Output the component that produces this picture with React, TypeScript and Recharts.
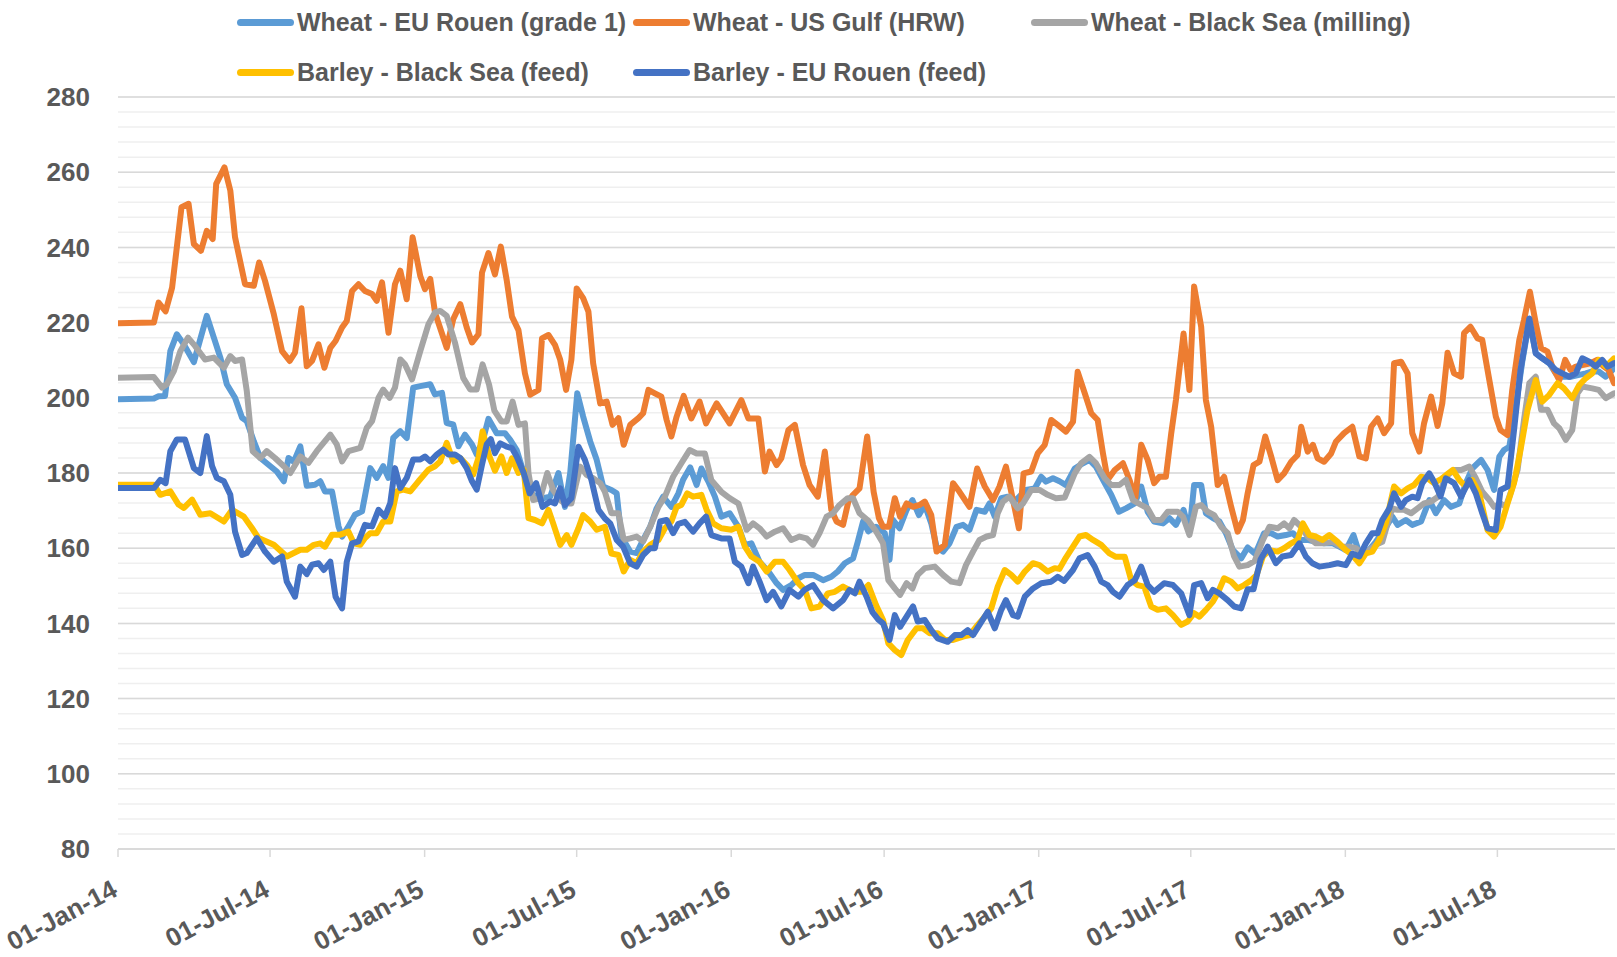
import React from "react";
import { LineChart, Line, XAxis, YAxis, CartesianGrid } from "recharts";

// x values are weeks since 01-Jan-14, y values are prices
const wheatRouen: [number, number][] = [
  [0, 199.6], [6.1, 199.8], [6.9, 200.4], [8.0, 200.5], [8.9, 212.4], [10.0, 216.9], [11.2, 214.2], [12.9, 209.5], [15.1, 221.8], [16.3, 216], [17.4, 210.7], [18.5, 203.6], [19.9, 200], [21.1, 194.7], [21.9, 193.8], [23.1, 188.4], [24.2, 184], [25.6, 182.2], [27.0, 180.4], [28.2, 177.8], [29.0, 184], [29.9, 183], [31.0, 187.1], [32.1, 176.6], [33.5, 176.9], [34.4, 177.8], [35.2, 175.1], [36.4, 175.1], [37.5, 165.8], [38.1, 163.1], [39.2, 165.8], [40.3, 168.9], [41.5, 169.8], [42.9, 181.3], [44.0, 178.7], [45.1, 181.8], [46.0, 178.7], [46.8, 189.3], [48.0, 191.1], [49.1, 189.3], [50.2, 202.7], [51.4, 203.1], [53.1, 203.6], [53.9, 200.9], [55.1, 201.3], [55.9, 193.3], [57.0, 192.9], [57.9, 187.1], [59.0, 190.2], [60.2, 187.6], [61.0, 184.9], [62.0, 188.4], [63.0, 194.4], [64.4, 190.6], [65.8, 190.6], [66.7, 188.8], [67.8, 186.1], [69.0, 180], [70.1, 174.6], [71.2, 173.7], [72.3, 173.3], [73.5, 173.7], [74.9, 180], [76.0, 171], [76.9, 180], [78.1, 201.2], [79.1, 195], [80.3, 188.4], [81.4, 183.5], [82.5, 176.4], [83.9, 175.5], [84.8, 174.6], [85.6, 163.1], [87.1, 159.1], [88.2, 158.7], [89.3, 162.2], [90.5, 165.7], [91.6, 170.6], [92.7, 173.7], [94.1, 171], [95.3, 174.6], [96.1, 178.2], [97.3, 181.5], [98.4, 176.8], [99.2, 181.2], [100.4, 177.7], [101.5, 173.7], [102.6, 168.4], [104.0, 169.3], [105.5, 165.7], [106.6, 160.9], [107.7, 161.3], [109.1, 156.4], [110.6, 153.8], [112.0, 150.7], [113.1, 148.9], [114.5, 150.2], [115.7, 152], [116.8, 152.9], [118.2, 152.9], [119.9, 151.5], [121.3, 152.4], [122.4, 153.8], [123.6, 156], [125.0, 157.3], [125.8, 161.7], [126.7, 167.1], [127.6, 164.5], [128.9, 165.7], [130.4, 164], [131.2, 156.9], [131.8, 167.5], [132.9, 165.3], [134.1, 170.2], [135.1, 172.8], [136.2, 168.8], [137.2, 171.5], [138.3, 166.6], [139.2, 160.4], [140.3, 159.1], [141.4, 161.3], [142.6, 165.7], [143.7, 166.2], [144.8, 164.9], [146.0, 170.2], [147.4, 169.7], [148.2, 171.9], [149.1, 168.4], [150.2, 173.3], [151.3, 173.7], [152.7, 172.8], [154.4, 175.5], [155.9, 175.9], [157.0, 179], [157.8, 177.7], [159.0, 178.6], [160.1, 177.8], [161.2, 176.8], [162.7, 181.2], [164.1, 182.6], [165.2, 183.5], [166.3, 181.7], [167.8, 177.3], [168.9, 174.2], [170.2, 169.7], [171.4, 170.6], [172.9, 171.9], [174.0, 176.4], [175.1, 169.7], [176.2, 167.1], [177.7, 166.6], [178.8, 168], [179.9, 166.2], [181.2, 170.2], [182.2, 164.4], [183.0, 176.8], [184.2, 176.8], [185.0, 169.3], [186.2, 168], [187.3, 167.1], [188.4, 164], [189.6, 159.5], [191.0, 157.3], [192.1, 160.2], [193.4, 158.5], [194.9, 164], [196.1, 164], [197.2, 163.1], [198.6, 163.5], [199.8, 164], [200.9, 162.2], [202.3, 162.2], [203.7, 161.7], [205.1, 161.3], [206.6, 161.3], [207.7, 160.4], [208.8, 159.5], [210.1, 163.5], [211.1, 158.6], [212.5, 159.1], [213.9, 161.7], [215.3, 164.8], [216.7, 168.4], [217.6, 166.2], [219.0, 167.5], [220.1, 166.2], [221.6, 167.1], [223.0, 172.8], [224.1, 169.3], [225.5, 172.8], [226.7, 171], [228.1, 171.9], [229.2, 177.3], [230.3, 181.2], [231.8, 183.5], [232.9, 180.8], [234.0, 175.5], [234.9, 184.3], [235.7, 186.1], [236.6, 187], [237.7, 197.6], [238.8, 209.6], [240.0, 220.5], [241.1, 211.8], [242.2, 210.5], [243.4, 209.2], [244.5, 206.5], [245.6, 205.6], [247.0, 205.6], [248.5, 206.1], [249.6, 206.5], [250.7, 207], [251.8, 207], [253.0, 205.6], [254.4, 207.8],
];

const wheatGulf: [number, number][] = [
  [0, 219.8], [6.1, 220], [6.9, 225.3], [8.1, 223], [9.2, 229.3], [10.8, 250.7], [12.0, 251.6], [12.9, 240.9], [14.1, 239.1], [15.1, 244.4], [16.1, 242.2], [16.7, 256.9], [18.1, 261.3], [19.1, 255.1], [19.9, 242.7], [21.6, 230.2], [23.1, 229.8], [24.0, 236], [25.0, 231.1], [26.5, 222.2], [27.9, 212.4], [29.2, 209.8], [30.1, 212], [31.2, 223.8], [32.1, 208.4], [33.0, 209.8], [34.1, 214.2], [35.1, 208], [36.1, 213.3], [37.0, 215.1], [38.1, 218.7], [38.9, 220.4], [39.8, 228.4], [40.9, 230.2], [42.0, 228.4], [43.2, 227.6], [44.0, 225.8], [44.9, 230.7], [46.0, 217.3], [47.1, 230.2], [48.0, 233.8], [49.1, 226.2], [50.1, 242.7], [51.4, 232.4], [52.2, 228.9], [53.1, 231.6], [53.9, 222.7], [55.9, 213.3], [57.0, 220.9], [58.2, 224.9], [59.3, 218.7], [60.2, 214.7], [61.3, 216.9], [61.9, 233.3], [63.0, 238.5], [64.1, 232.8], [65.1, 240.2], [66.1, 231.3], [67.0, 221.6], [68.1, 218], [69.2, 206.5], [70.1, 200.8], [71.5, 202.1], [72.1, 215.8], [73.2, 216.7], [74.3, 214.1], [75.2, 210.1], [76.2, 202.1], [77.1, 210.1], [78.0, 229.1], [79.1, 226.5], [80.0, 222.9], [80.8, 209.2], [82.0, 198.5], [83.1, 199], [84.1, 192.8], [85.1, 194.6], [86.0, 187.5], [87.1, 192.8], [88.5, 194.6], [89.3, 195.9], [90.2, 202.1], [91.3, 201.2], [92.4, 200.3], [93.3, 194.1], [94.1, 189.7], [95.0, 195], [96.2, 200.5], [97.5, 194.5], [98.9, 199], [100.0, 193.2], [101.8, 198.5], [104.0, 193.2], [106.0, 199.4], [107.2, 194.5], [108.9, 194.5], [110.0, 180.4], [110.8, 185.7], [112.0, 182.1], [112.8, 183.9], [114.0, 191.4], [115.1, 192.8], [116.5, 182.1], [117.6, 176.8], [119.0, 173.7], [120.2, 185.7], [121.3, 170.2], [122.2, 167.1], [123.3, 166.2], [124.2, 172.4], [125.0, 174.2], [126.1, 175.9], [127.4, 189.7], [128.5, 175], [129.4, 168], [130.1, 165.7], [131.1, 165.7], [132.1, 173.3], [133.0, 168.4], [134.1, 171.9], [135.2, 171], [136.3, 171.5], [137.2, 172.4], [138.3, 168.8], [139.2, 159.1], [140.6, 160.9], [142.0, 177.3], [143.1, 175], [144.8, 171], [146.1, 181.2], [147.4, 176.4], [148.8, 172.8], [149.9, 176.4], [151.0, 181.7], [152.2, 172.8], [153.2, 165.3], [154.0, 179.9], [155.3, 180.4], [156.4, 185.2], [157.6, 187.5], [158.7, 194.1], [159.8, 192.8], [161.2, 191], [162.4, 193.6], [163.2, 206.9], [164.4, 201.2], [165.5, 195.9], [166.6, 194.1], [167.5, 185.2], [168.3, 178.2], [169.5, 180.8], [170.9, 182.6], [172.0, 178.2], [173.0, 173.3], [174.0, 187.5], [175.1, 183.5], [176.2, 177.3], [177.1, 179], [178.2, 179], [179.1, 190.5], [179.9, 199.4], [181.2, 217.1], [182.2, 202.1], [183.0, 229.6], [184.2, 218.9], [185.0, 199.4], [185.9, 192.3], [187.0, 176.8], [188.1, 179], [189.3, 171], [190.4, 164.4], [191.3, 167.5], [192.1, 174.6], [193.1, 182.1], [194.1, 183], [195.1, 189.7], [196.1, 184.4], [197.2, 178.1], [198.3, 179.9], [199.5, 183], [200.6, 184.8], [201.2, 192.3], [202.3, 185.7], [203.2, 187.5], [204.0, 183.9], [205.1, 183], [206.3, 185.2], [207.1, 188.3], [208.5, 190.6], [209.9, 192.3], [211.1, 184.4], [212.2, 183.9], [213.1, 192.3], [214.2, 194.5], [215.3, 190.6], [216.5, 193.2], [217.0, 209.2], [218.2, 209.6], [219.3, 206.5], [220.1, 190.6], [221.3, 185.7], [222.1, 193.2], [223.3, 200.3], [224.4, 192.5], [225.2, 198.5], [226.1, 212], [227.2, 206.5], [228.4, 205.6], [228.9, 217.2], [230.0, 218.9], [231.2, 215.8], [232.0, 215.4], [233.2, 204.7], [234.3, 195], [235.1, 191.4], [236.3, 190.1], [237.1, 202.1], [238.3, 215.4], [239.1, 220.7], [240.1, 228.2], [241.1, 219.8], [242.0, 213.2], [243.1, 212.3], [243.9, 208.3], [245.1, 204.7], [246.1, 210.1], [247.0, 207.4], [247.9, 208.3], [249.0, 208.7], [250.4, 209.2], [251.6, 210.1], [252.7, 208.3], [253.5, 207.4], [254.4, 203.9],
];

const wheatBlackSea: [number, number][] = [
  [0, 205.3], [6.1, 205.5], [7.5, 202.7], [8.3, 203.6], [9.5, 207.1], [10.6, 212.4], [11.9, 216], [13.1, 213.8], [14.8, 210.2], [16.3, 210.7], [18.0, 208], [19.1, 211.1], [19.9, 209.8], [21.1, 210.2], [21.9, 201.8], [22.9, 185.8], [24.2, 184], [25.3, 185.8], [26.7, 184], [28.2, 181.8], [29.3, 180], [31.0, 184.4], [32.4, 182.7], [33.8, 185.8], [36.1, 190.2], [37.2, 187.6], [38.1, 183.1], [39.2, 185.8], [41.2, 186.7], [42.3, 192], [43.2, 193.8], [44.3, 200], [45.1, 202.2], [46.2, 200], [47.1, 202.7], [48.0, 210.2], [48.8, 208.9], [50.0, 204.9], [51.4, 212.4], [52.8, 219.6], [53.9, 222.7], [54.8, 223.1], [55.9, 221.8], [57.3, 214.7], [58.7, 205.3], [59.9, 202.2], [61.0, 202.2], [62.0, 208.9], [63.1, 203.5], [64.0, 196.6], [65.2, 193.7], [66.1, 193.7], [67.1, 199], [68.1, 192.8], [69.2, 193.2], [69.8, 180], [70.6, 172.8], [71.8, 173.3], [73.0, 180], [74.0, 175.5], [75.2, 172.8], [76.0, 171.9], [77.1, 171.9], [78.6, 181.7], [79.7, 179.5], [80.8, 178.6], [82.0, 177.3], [82.8, 175], [83.9, 169.3], [85.1, 169.3], [86.0, 162.2], [87.1, 162.6], [88.2, 163.1], [89.3, 161.8], [90.5, 165.7], [91.9, 171], [93.0, 173.7], [94.4, 179], [95.8, 182.6], [97.2, 186.1], [98.4, 185.2], [99.8, 185.2], [100.9, 178.1], [102.6, 175], [104.0, 173.3], [105.5, 171.9], [106.9, 164.9], [108.0, 166.6], [109.1, 165.3], [110.3, 163.1], [111.7, 164.4], [113.1, 165.3], [114.5, 162.2], [115.9, 163.1], [117.1, 162.6], [118.2, 160.9], [119.3, 164], [120.5, 168.4], [121.6, 169.3], [122.7, 171.5], [124.1, 173.3], [125.0, 173.3], [126.1, 169.3], [127.6, 167.3], [128.9, 164.5], [130.1, 161.3], [131.0, 151.5], [132.1, 149.3], [133.0, 147.6], [134.1, 150.7], [135.1, 149.3], [136.0, 152.9], [137.2, 154.7], [138.9, 155.1], [140.3, 152.9], [141.7, 151.1], [143.1, 150.7], [144.2, 155.5], [145.4, 159.1], [146.5, 162.2], [147.7, 163.1], [148.8, 163.5], [149.6, 169.3], [150.5, 172.4], [151.6, 173.7], [153.0, 170.6], [153.9, 171.9], [155.3, 175.5], [156.7, 175.5], [158.1, 174.2], [159.5, 173.3], [161.0, 173.5], [162.7, 179.9], [163.8, 182.6], [165.2, 184.3], [166.3, 182.6], [167.8, 178.6], [168.9, 176.8], [170.3, 176.8], [171.4, 178.2], [172.6, 172.8], [174.0, 171.5], [175.1, 170.6], [176.2, 167.5], [177.4, 167.5], [178.5, 169.7], [180.2, 169.7], [181.1, 168.4], [182.2, 163.5], [183.3, 171], [184.2, 171.5], [185.3, 169.7], [186.4, 168.8], [187.6, 165.7], [188.7, 164], [189.8, 157.8], [190.7, 155.1], [192.1, 155.5], [193.3, 156.6], [194.7, 162.2], [195.8, 165.7], [197.2, 165.3], [198.3, 166.6], [199.2, 165.3], [200.0, 167.5], [201.2, 165.7], [202.3, 163.1], [203.7, 161.3], [205.1, 161.3], [206.6, 161.7], [208.0, 160.4], [209.4, 160.4], [210.5, 160], [211.6, 158.6], [212.8, 159.5], [213.9, 160.9], [215.0, 161.7], [215.9, 166.6], [216.7, 170.6], [217.6, 170.2], [218.7, 170.2], [219.9, 169.3], [221.0, 170.6], [222.1, 171.9], [223.3, 172.4], [224.5, 173.7], [225.8, 179], [227.2, 180.8], [228.4, 180.8], [229.8, 181.7], [230.9, 178.6], [232.0, 175], [233.2, 172.8], [234.0, 171], [235.1, 171.9], [236.0, 171], [236.8, 174.6], [238.0, 180.8], [239.1, 194.1], [240.0, 203.9], [241.1, 205.6], [242.0, 196.8], [243.1, 196.8], [244.2, 193.2], [245.1, 191.9], [246.2, 188.8], [247.3, 191.4], [248.2, 201.2], [249.0, 203], [250.7, 202.5], [251.8, 202.1], [253.0, 199.9], [254.4, 201.2],
];

const barleyBlackSea: [number, number][] = [
  [0, 176.9], [6.1, 176.9], [7.2, 174.2], [8.9, 175.1], [10.3, 171.6], [11.2, 170.7], [12.6, 172.9], [14.0, 168.9], [15.7, 169.3], [18.0, 167.1], [19.4, 170.2], [21.4, 168.4], [22.8, 165.3], [23.9, 162.7], [26.5, 160.9], [28.7, 157.8], [31.0, 159.6], [32.1, 159.6], [33.3, 160.9], [34.4, 161.3], [35.2, 160.4], [36.4, 163.6], [37.8, 163.6], [39.2, 164.4], [40.1, 161.3], [41.2, 160.9], [42.0, 162.7], [42.9, 164], [44.0, 164], [45.1, 167.1], [46.3, 167.1], [47.4, 175.1], [48.5, 175.6], [49.7, 175.1], [51.1, 177.8], [52.8, 180.9], [53.9, 181.8], [54.8, 183.1], [55.9, 188], [57.0, 183.1], [58.2, 184], [59.3, 182.2], [60.4, 179.6], [61.3, 184], [62.0, 191.1], [63.1, 184.7], [64.1, 180.6], [65.2, 184.4], [66.1, 180], [67.0, 183.9], [68.1, 180], [69.0, 180.8], [69.8, 168], [70.9, 167.5], [72.1, 166.6], [73.2, 170.2], [74.0, 166.6], [75.2, 160.9], [76.3, 163.5], [77.1, 160.9], [78.3, 165.3], [79.1, 168.8], [80.3, 167.1], [81.4, 164.9], [82.8, 165.7], [83.9, 158.6], [85.1, 158.2], [86.0, 153.8], [87.1, 156.9], [88.2, 156], [89.3, 159.1], [90.5, 160.9], [91.9, 162.2], [93.0, 165.3], [94.1, 167.1], [95.0, 171], [95.8, 171.5], [96.8, 174.6], [97.8, 173.7], [99.2, 174.2], [100.1, 170.2], [101.2, 166.6], [102.6, 165.3], [104.3, 164.9], [105.5, 165.7], [106.6, 160.4], [107.7, 157.8], [109.1, 156.4], [110.3, 153.8], [111.7, 156.4], [113.1, 156.4], [114.2, 154.2], [115.7, 150.7], [116.8, 148.9], [117.9, 144], [119.3, 144.5], [120.7, 148], [121.9, 148.4], [123.3, 149.8], [125.0, 148.4], [126.4, 148.4], [127.6, 150.2], [128.9, 144.9], [130.1, 140.9], [131.0, 134.7], [132.1, 132.9], [133.2, 131.6], [134.3, 135.6], [135.8, 138.7], [136.9, 138.7], [138.0, 137.4], [139.4, 137.4], [140.6, 135.6], [142.0, 135.6], [143.7, 136.5], [144.8, 136.9], [146.2, 139.6], [147.4, 141.8], [148.5, 144], [149.6, 149.8], [150.8, 154.2], [151.9, 152.9], [153.0, 151.1], [154.2, 153.8], [155.6, 156], [156.7, 155.5], [158.1, 153.8], [159.3, 154.7], [160.1, 154.5], [161.2, 157.5], [162.4, 160.4], [163.5, 163.1], [164.6, 163.5], [165.8, 162.2], [167.2, 160.9], [168.6, 158.6], [169.7, 157.7], [171.2, 157.7], [172.3, 151.5], [173.4, 150.2], [174.5, 149.8], [175.7, 144.5], [176.8, 143.6], [178.2, 144], [179.4, 142.2], [180.8, 139.6], [181.9, 140.5], [183.0, 142.7], [183.9, 141.8], [185.0, 143.6], [186.2, 145.8], [187.0, 148], [188.1, 152], [189.3, 151.1], [190.4, 149.3], [191.5, 150.2], [192.7, 151.5], [193.6, 152.8], [194.7, 157.8], [195.8, 159.5], [197.2, 159.1], [198.3, 160], [199.5, 161.3], [200.6, 162.2], [201.5, 166.6], [202.6, 163.5], [203.7, 163.1], [204.8, 162.2], [206.0, 163.5], [207.4, 161.7], [208.8, 159.5], [209.9, 158.2], [211.1, 156], [212.2, 158.6], [213.3, 159.1], [214.5, 162.2], [215.6, 166.6], [217.0, 176.4], [218.2, 174.6], [219.3, 175.9], [220.4, 176.8], [221.6, 179], [222.7, 178.6], [223.8, 177.3], [225.0, 178.4], [226.0, 179.6], [227.0, 180.8], [228.1, 178.1], [229.2, 176.4], [230.3, 178.1], [231.5, 174.6], [232.9, 164.8], [234.0, 163.1], [235.1, 165.7], [236.3, 171.9], [237.4, 177.3], [238.5, 186.1], [239.7, 196.8], [241.1, 204.7], [242.2, 199], [243.4, 200.8], [244.8, 203.9], [245.9, 202.5], [247.3, 199.9], [248.5, 203.4], [249.6, 205.2], [250.7, 206.5], [251.8, 210.1], [253.0, 208.3], [254.4, 210.5],
];

const barleyRouen: [number, number][] = [
  [0, 176], [6.1, 176], [7.2, 178.2], [8.1, 177.3], [8.9, 185.8], [10.0, 188.9], [11.4, 188.9], [12.9, 181.3], [14.0, 180], [15.1, 189.8], [16.0, 181.8], [16.8, 178.7], [18.0, 177.8], [19.1, 174.2], [19.9, 164.4], [21.1, 158.2], [21.9, 158.7], [23.6, 162.7], [25.0, 159.1], [26.5, 156.4], [27.9, 157.8], [28.7, 151.1], [30.1, 147.1], [31.0, 155.1], [32.1, 153.1], [33.0, 155.6], [34.1, 156], [35.0, 154.2], [36.1, 156.4], [37.0, 147.1], [38.1, 144], [38.9, 156.4], [39.8, 161.3], [40.9, 161.8], [42.0, 166.2], [43.2, 165.8], [44.3, 170.2], [45.4, 168.4], [46.3, 172], [47.1, 181.3], [48.0, 176], [49.1, 178.7], [50.2, 183.6], [51.4, 183.6], [52.2, 184.4], [53.1, 183.1], [54.2, 184.9], [55.3, 186.2], [56.2, 184.9], [57.3, 184.9], [58.2, 184], [59.3, 181.3], [60.2, 177.8], [61.0, 175.6], [61.9, 182.2], [62.7, 187.6], [63.4, 189], [64.1, 185.3], [65.0, 187.9], [66.1, 187], [67.0, 186.6], [67.8, 184.4], [69.0, 180], [70.0, 174.6], [71.1, 177.3], [72.2, 171], [73.5, 172.4], [74.3, 171.9], [75.2, 175.9], [76.0, 171.5], [77.1, 173.3], [78.3, 187], [79.4, 183.5], [80.5, 178.2], [81.7, 170.2], [82.8, 167.9], [83.7, 166.6], [84.8, 162.2], [85.9, 160.4], [87.1, 156], [88.2, 155.1], [89.3, 158.2], [90.5, 160], [91.3, 160], [92.2, 167.1], [93.3, 167.5], [94.4, 164], [95.3, 166.5], [96.4, 167], [97.8, 164.4], [98.9, 166.6], [100.0, 168.4], [100.9, 163.5], [102.6, 162.6], [104.0, 162.6], [104.9, 156.4], [106.0, 155.1], [107.2, 150.7], [108.0, 155.1], [109.1, 151.1], [110.3, 146.2], [111.4, 148.4], [112.8, 144.5], [114.2, 148.9], [115.7, 147.1], [116.8, 149], [118.2, 150.2], [119.9, 146.2], [121.6, 144], [123.3, 146.2], [124.4, 148.9], [125.3, 148], [126.1, 151.1], [127.3, 147.1], [128.3, 143], [129.3, 141], [130.1, 140], [131.2, 135.6], [132.1, 142.2], [133.0, 139.1], [134.1, 141.8], [135.2, 144.5], [136.0, 140.5], [137.2, 140.9], [138.3, 138.2], [139.4, 136], [141.1, 135.1], [142.3, 136.9], [143.4, 136.9], [144.5, 138.2], [145.4, 136.9], [146.5, 139.6], [147.9, 143.1], [149.1, 138.7], [150.2, 143.6], [151.0, 146.2], [152.2, 142.2], [153.0, 141.8], [154.2, 147.1], [155.6, 149.3], [157.0, 150.7], [158.7, 151.1], [159.8, 152.4], [160.9, 151.3], [162.4, 154.2], [163.5, 157.3], [164.9, 158.2], [166.1, 155.1], [167.2, 151.1], [168.3, 150.2], [169.2, 148.4], [170.3, 147.1], [171.7, 150.2], [172.9, 151.5], [174.0, 155.1], [175.1, 150.2], [176.2, 148.4], [177.9, 150.7], [179.4, 150.2], [180.8, 148], [182.2, 142.2], [183.0, 150.2], [184.2, 150.7], [185.3, 146.7], [186.2, 148.9], [187.3, 148], [188.7, 146.2], [189.8, 144.5], [191.0, 144], [192.1, 149.1], [193.1, 149.1], [194.3, 157], [195.5, 160.4], [196.9, 156], [198.0, 157.8], [199.5, 158.2], [200.9, 161.3], [202.0, 157.8], [203.1, 156], [204.3, 155.1], [206.0, 155.5], [207.4, 156], [208.8, 155.5], [209.9, 158.6], [211.1, 157.8], [212.2, 161.3], [213.3, 164], [214.2, 164], [215.0, 167.5], [216.2, 170.6], [217.0, 174.6], [218.2, 171], [219.0, 172.8], [220.1, 173.7], [221.0, 173.3], [221.8, 177.3], [223.0, 179.9], [223.8, 177.7], [224.9, 173.8], [225.8, 178.6], [227.2, 177.3], [228.4, 173.7], [229.8, 178.1], [230.9, 174.6], [232.0, 169.3], [232.9, 165.3], [234.3, 164.8], [235.1, 175.5], [236.3, 176.4], [237.4, 191.4], [238.5, 207.4], [240.0, 221.1], [241.1, 211.8], [242.2, 210.5], [243.4, 209.2], [244.5, 207.4], [245.6, 206.5], [246.8, 205.6], [247.9, 206.5], [249.0, 210.5], [250.2, 209.6], [251.3, 208.3], [252.4, 210.1], [253.3, 208.3], [254.4, 209.2],
];

const tickDates = ["2014-01-01", "2014-07-01", "2015-01-01", "2015-07-01", "2016-01-01", "2016-07-01", "2017-01-01", "2017-07-01", "2018-01-01", "2018-07-01"];
const tickLabels = ["01-Jan-14", "01-Jul-14", "01-Jan-15", "01-Jul-15", "01-Jan-16", "01-Jul-16", "01-Jan-17", "01-Jul-17", "01-Jan-18", "01-Jul-18"];
const priceTicks = [80, 100, 120, 140, 160, 180, 200, 220, 240, 260, 280];

const DAY = 86400000;
const START = Date.parse("2014-01-01");
const END = START + 1782 * DAY;
const tickTimes = tickDates.map((d) => Date.parse(d));
const minorTicks = Array.from({ length: 51 }, (_, i) => 80 + i * 4);

const FONT = '"Liberation Sans", Arial, sans-serif';
const TEXT = "#595959";

const series = [
  { name: "Wheat - EU Rouen (grade 1)", color: "#5B9BD5", points: wheatRouen },
  { name: "Wheat - US Gulf (HRW)", color: "#ED7D31", points: wheatGulf },
  { name: "Wheat - Black Sea (milling)", color: "#A5A5A5", points: wheatBlackSea },
  { name: "Barley - Black Sea (feed)", color: "#FFC000", points: barleyBlackSea },
  { name: "Barley - EU Rouen (feed)", color: "#4472C4", points: barleyRouen },
];

const toRows = (pts: [number, number][]) =>
  pts.map(([w, p]) => ({ t: START + w * 7 * DAY, price: p }));

const legendPos = [
  { left: 237, top: 22 },
  { left: 633, top: 22 },
  { left: 1031, top: 22 },
  { left: 237, top: 72 },
  { left: 633, top: 72 },
];

const DateTick = (props: any) => {
  const { x, y, payload } = props;
  const i = tickTimes.indexOf(payload.value);
  const ax = x + 1;
  const ay = y + 36;
  return (
    <text
      x={ax}
      y={ay}
      transform={`rotate(-28, ${ax}, ${ay})`}
      textAnchor="end"
      fill={TEXT}
      fontFamily={FONT}
      fontWeight="bold"
      fontSize={26}
    >
      {tickLabels[i]}
    </text>
  );
};

export default function App() {
  return (
    <div style={{ position: "absolute", left: 0, top: 0, width: 1617, height: 957, background: "#fff" }}>
      <LineChart width={1617} height={957} margin={{ top: 97, right: 2, left: 0, bottom: 0 }}>
        <CartesianGrid vertical={false} stroke="#EFEFEF" strokeWidth={1.5} horizontalValues={minorTicks} />
        <CartesianGrid vertical={false} stroke="#D9D9D9" strokeWidth={1.5} horizontalValues={priceTicks} />
        <XAxis
          dataKey="t"
          type="number"
          domain={[START, END]}
          allowDataOverflow
          ticks={tickTimes}
          tick={<DateTick />}
          height={108}
          stroke="#D9D9D9"
          strokeWidth={1.5}
          tickSize={8}
          interval={0}
        />
        <YAxis
          type="number"
          domain={[80, 280]}
          ticks={priceTicks}
          width={118}
          axisLine={false}
          tickLine={false}
          tickSize={0}
          tickMargin={28}
          interval={0}
          tick={{ fill: TEXT, fontFamily: FONT, fontWeight: "bold", fontSize: 26 }}
        />
        {series.map((s) => (
          <Line
            key={s.name}
            data={toRows(s.points)}
            dataKey="price"
            name={s.name}
            type="linear"
            stroke={s.color}
            strokeWidth={6}
            strokeLinejoin="round"
            strokeLinecap="round"
            dot={false}
            activeDot={false}
            isAnimationActive={false}
          />
        ))}
      </LineChart>
      {series.map((s, i) => (
        <div
          key={s.name}
          style={{
            position: "absolute",
            left: legendPos[i].left,
            top: legendPos[i].top - 16,
            height: 32,
            display: "flex",
            alignItems: "center",
            whiteSpace: "nowrap",
          }}
        >
          <span style={{ display: "inline-block", width: 57, height: 7, borderRadius: 4, background: s.color, marginRight: 3 }} />
          <span style={{ fontFamily: FONT, fontWeight: "bold", fontSize: 25, color: TEXT }}>{s.name}</span>
        </div>
      ))}
    </div>
  );
}
